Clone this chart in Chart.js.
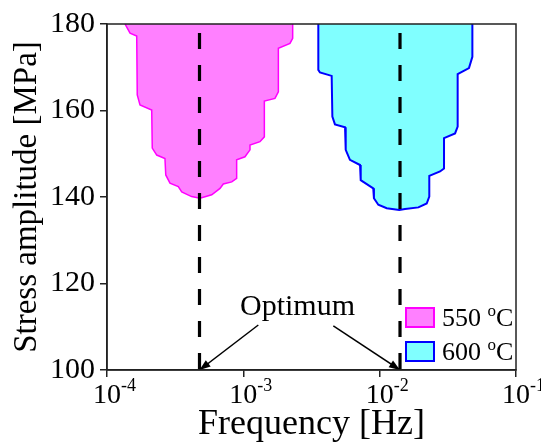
<!DOCTYPE html>
<html>
<head>
<meta charset="utf-8">
<script src="https://cdn.jsdelivr.net/npm/chart.js@4.4.1/dist/chart.umd.min.js"></script>
<style>
  html, body { margin: 0; padding: 0; background: #fff; }
  #wrap { width: 541px; height: 445px; }
</style>
</head>
<body>
<div id="wrap"><canvas id="chart"></canvas></div>
<script>
// 550 C window, outline traced clockwise from the top-left corner
const freq550 = [1.355e-4, 1.476e-4, 1.652e-4, 1.667e-4, 1.746e-4, 2.128e-4, 2.148e-4, 2.317e-4,
  2.661e-4, 2.698e-4, 2.897e-4, 3.334e-4, 3.532e-4, 4.178e-4, 4.808e-4, 5.861e-4, 6.745e-4,
  7.129e-4, 8.222e-4, 8.933e-4, 8.933e-4, 1.028e-3, 1.119e-3, 1.119e-3, 1.324e-3, 1.426e-3,
  1.426e-3, 1.706e-3, 1.807e-3, 1.807e-3, 2.198e-3, 2.301e-3, 2.301e-3];
const stress550 = [180, 177.9, 177.2, 163.6, 161.3, 160.1, 151.3, 149.7,
  148.9, 145.1, 143.2, 142.4, 141.2, 140.1, 139.7, 140.5, 142.0,
  143.0, 143.5, 144.3, 148.6, 149.3, 150.9, 152.0, 152.8, 153.9,
  162.2, 162.8, 164.3, 174.4, 175.5, 176.7, 180];

// 600 C window, same direction
const freq600 = [3.548e-3, 3.548e-3, 3.648e-3, 4.446e-3, 4.498e-3, 4.699e-3, 5.572e-3, 5.636e-3,
  6.053e-3, 7.178e-3, 7.261e-3, 7.586e-3, 8.974e-3, 9.078e-3, 9.772e-3, 1.127e-2, 1.393e-2,
  1.535e-2, 1.923e-2, 2.213e-2, 2.312e-2, 2.312e-2, 2.773e-2, 2.965e-2, 2.965e-2, 3.573e-2,
  3.733e-2, 3.733e-2, 4.519e-2, 4.786e-2, 4.786e-2];
const stress600 = [180, 169.4, 168.8, 168.0, 158.6, 156.8, 156.1, 150.9,
  148.6, 147.4, 143.9, 143.5, 142.0, 139.7, 138.2, 137.4, 137.0,
  137.2, 137.6, 138.5, 140.1, 144.9, 145.9, 146.6, 153.6, 154.7,
  156.3, 168.4, 169.8, 172.4, 180];

// optimum frequencies (dashed lines) and the "Optimum" arrows
const optimumFreq = [4.77e-4, 1.41e-2];
const dashStress = [177.9, 100];
const arrowStartFreq = [1.288e-3, 4.571e-3];
const arrowStartStress = [110.4, 110.2];
const labelFreq = 2.495e-3;
const labelStress = 112.7;

const xTickValues = [1e-4, 1e-3, 1e-2, 1e-1];
const xTickExponents = ['-4', '-3', '-2', '-1'];
const seriesNames = ['550', '600'];

const serif = "'Liberation Serif', 'Times New Roman', serif";

function toPoints(xs, ys) {
  return xs.map((x, i) => ({ x: x, y: ys[i] }));
}

const datasets = [];
optimumFreq.forEach(function(f) {
  datasets.push({
    data: toPoints([f, f], dashStress),
    borderColor: '#000', borderWidth: 3.2, borderDash: [16, 16],
    showLine: true, pointRadius: 0, fill: false, order: 1
  });
});
optimumFreq.forEach(function(f, i) {
  datasets.push({
    data: toPoints([arrowStartFreq[i], f], [arrowStartStress[i], 100]),
    borderColor: '#000', borderWidth: 1.5,
    showLine: true, pointRadius: 0, fill: false, order: 1, arrow: true
  });
});
datasets.push({
  data: toPoints(freq550, stress550),
  showLine: true, fill: 'shape', pointRadius: 0,
  backgroundColor: '#ff80ff', borderColor: '#ff00ff', borderWidth: 1.5, order: 2
});
datasets.push({
  data: toPoints(freq600, stress600),
  showLine: true, fill: 'shape', pointRadius: 0,
  backgroundColor: '#80ffff', borderColor: '#0000ff', borderWidth: 2, order: 2
});

// arrow heads, frame, legend and the other texts
const decorations = {
  id: 'decorations',
  afterDatasetsDraw(chart) {
    const ctx = chart.ctx;
    ctx.save();
    chart.data.datasets.forEach(function(ds, i) {
      if (!ds.arrow) return;
      const pts = chart.getDatasetMeta(i).data;
      const a = pts[0], b = pts[pts.length - 1];
      const ang = Math.atan2(b.y - a.y, b.x - a.x);
      const len = 11, half = 4;
      ctx.fillStyle = '#000';
      ctx.beginPath();
      ctx.moveTo(b.x, b.y);
      ctx.lineTo(b.x - len * Math.cos(ang) + half * Math.sin(ang), b.y - len * Math.sin(ang) - half * Math.cos(ang));
      ctx.lineTo(b.x - len * Math.cos(ang) - half * Math.sin(ang), b.y - len * Math.sin(ang) + half * Math.cos(ang));
      ctx.closePath();
      ctx.fill();
    });
    ctx.restore();
  },
  afterDraw(chart) {
    const ctx = chart.ctx;
    const area = chart.chartArea;
    const xs = chart.scales.x, ys = chart.scales.y;
    ctx.save();

    // frame
    ctx.strokeStyle = '#222';
    ctx.lineWidth = 1.5;
    ctx.strokeRect(area.left, area.top, area.right - area.left, area.bottom - area.top);

    // x tick labels as 10 with a raised exponent
    ctx.fillStyle = '#000';
    ctx.textBaseline = 'alphabetic';
    xTickValues.forEach(function(v, i) {
      const px = xs.getPixelForValue(v);
      ctx.font = '28px ' + serif;
      ctx.textAlign = 'center';
      ctx.fillText('10', px, area.bottom + 33);
      ctx.font = '18px ' + serif;
      ctx.textAlign = 'left';
      ctx.fillText(xTickExponents[i], px + 14, area.bottom + 21);
    });

    // Optimum label
    ctx.font = '30px ' + serif;
    ctx.textAlign = 'center';
    ctx.fillText('Optimum', xs.getPixelForValue(labelFreq), ys.getPixelForValue(labelStress));

    // legend
    const fills = [datasets[4], datasets[5]];
    fills.forEach(function(ds, i) {
      const bx = area.right - 110;
      const by = area.bottom - 62 + i * 34;
      ctx.fillStyle = ds.backgroundColor;
      ctx.fillRect(bx, by, 28, 19);
      ctx.strokeStyle = ds.borderColor;
      ctx.lineWidth = 2;
      ctx.strokeRect(bx, by, 28, 19);
      ctx.fillStyle = '#000';
      ctx.textAlign = 'left';
      let tx = bx + 36;
      const base = by + 18;
      ctx.font = '26px ' + serif;
      const t1 = seriesNames[i] + ' ';
      ctx.fillText(t1, tx, base);
      tx += ctx.measureText(t1).width;
      ctx.font = '17px ' + serif;
      ctx.fillText('o', tx, base - 10);
      tx += ctx.measureText('o').width;
      ctx.font = '26px ' + serif;
      ctx.fillText('C', tx, base);
    });
    ctx.restore();
  }
};

new Chart(document.getElementById('chart'), {
  type: 'scatter',
  data: { datasets: datasets },
  options: {
    responsive: true,
    maintainAspectRatio: false,
    animation: false,
    devicePixelRatio: 1,
    layout: { padding: { top: 24, right: 25, left: 0, bottom: 0 } },
    plugins: { legend: { display: false }, tooltip: { enabled: false } },
    scales: {
      x: {
        type: 'logarithmic',
        min: 1e-4,
        max: 1e-1,
        afterBuildTicks: function(scale) {
          scale.ticks = xTickValues.map(v => ({ value: v }));
        },
        afterFit: function(scale) { scale.height = 75; },
        ticks: { autoSkip: false, callback: () => '' },
        grid: { drawOnChartArea: false, drawTicks: true, tickLength: 7, color: '#222', lineWidth: 1.5 },
        border: { display: true, color: '#222', width: 1.5 },
        title: {
          display: true, text: 'Frequency [Hz]', color: '#000',
          font: { family: serif, size: 36, lineHeight: 1 },
          padding: { top: 0, bottom: 2 }
        }
      },
      y: {
        min: 100,
        max: 180,
        afterFit: function(scale) { scale.width = 107; },
        ticks: { stepSize: 20, color: '#000', padding: 5, font: { family: serif, size: 30 } },
        grid: { drawOnChartArea: false, drawTicks: true, tickLength: 7, color: '#222', lineWidth: 1.5 },
        border: { display: true, color: '#222', width: 1.5 },
        title: {
          display: true, text: 'Stress amplitude [MPa]', color: '#000',
          font: { family: serif, size: 33, lineHeight: 1 },
          padding: { top: 11, bottom: 0 }
        }
      }
    }
  },
  plugins: [decorations]
});
</script>
</body>
</html>
